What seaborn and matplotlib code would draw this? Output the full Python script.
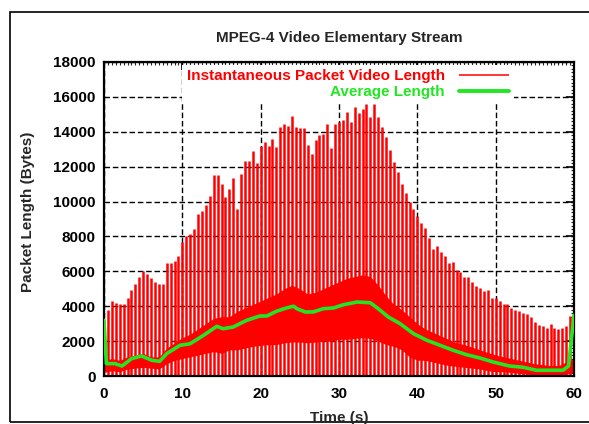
import numpy as np
import matplotlib
matplotlib.use('Agg')
import matplotlib.pyplot as plt
import seaborn as sns
from matplotlib.patches import Rectangle
from matplotlib.ticker import MultipleLocator

# I-frame spike heights (bytes), one every 0.5 s from 0.5 s to 59.5 s
spike_len = [
    3800, 4300, 4200, 4100, 4100, 4450, 4950, 5300, 5650, 6000,
    5850, 5600, 5400, 5250, 5300, 6450, 6500, 6600, 6900, 7700,
    8050, 8150, 8400, 9300, 9450, 9800, 10300, 11500, 11500, 11000,
    10250, 10700, 11350, 9600, 11600, 12300, 12300, 12900, 12200, 13200,
    13400, 13200, 13600, 13100, 14300, 14450, 14350, 14900, 14300, 14200,
    14200, 13250, 12750, 13550, 13800, 13900, 14450, 13050, 14450, 14550,
    14650, 15150, 14550, 15400, 15050, 15300, 15600, 14850, 15600, 14850,
    14250, 13700, 12950, 12250, 11700, 11000, 10500, 9950, 9600, 9200,
    8750, 8500, 7900, 7300, 7450, 7100, 6900, 6450, 6550, 6100,
    5950, 5650, 5650, 5400, 5150, 5050, 4850, 4950, 4500, 4450,
    4300, 4150, 4100, 3900, 3800, 3700, 3600, 3550, 3400, 3100,
    2900, 2850, 2750, 3000, 2750, 2700, 2750, 2850, 3450,
]
spike_t = np.arange(0.5, 60, 0.5)

# dense band of P/B frame sizes, per second 0..60
band_t = np.arange(0, 61)
band_lo = [200, 300, 250, 400, 450, 500, 450, 400, 700, 900,
           1000, 1100, 1200, 1300, 1400, 1300, 1500, 1500, 1600, 1700,
           1750, 1800, 1800, 1900, 1950, 1950, 1900, 1950, 2000, 2000,
           2100, 2100, 2150, 2200, 2150, 2000, 1800, 1700, 1500, 1100,
           900, 900, 800, 700, 600, 550, 500, 450, 400, 300,
           250, 250, 200, 150, 100, 60, 50, 50, 50, 100, 200]
band_hi = [900, 1000, 900, 1100, 1200, 1300, 1100, 1100, 1600, 1900,
           2200, 2400, 2700, 3000, 3300, 3400, 3400, 3700, 3900, 4100,
           4300, 4500, 4700, 5000, 5200, 5000, 4700, 4800, 5000, 5200,
           5400, 5600, 5700, 5800, 5700, 5200, 4600, 4100, 3800, 3400,
           3000, 2700, 2500, 2300, 2100, 1900, 1800, 1650, 1500, 1350,
           1200, 1100, 1000, 900, 800, 700, 650, 600, 600, 800, 1000]

# running average length
avg_t = [0, 0.3, 1.4, 2.3, 3.5, 4.8, 6.1, 7.1, 8.0, 9.7, 11.0, 12.7, 14.4,
         15.2, 16.5, 18.2, 19.9, 20.8, 22.0, 23.3, 24.2, 24.6, 25.7, 26.7,
         28.0, 29.3, 30.6, 32.3, 34.0, 35.0, 36.3, 37.8, 39.5, 41.2, 42.9,
         44.6, 46.3, 48.0, 49.7, 51.8, 53.5, 55.2, 56.5, 58.6, 59.3, 60.0]
avg_len = [3190, 710, 710, 570, 990, 1150, 900, 840, 1280, 1760, 1850, 2330,
           2850, 2710, 2810, 3190, 3440, 3440, 3710, 3900, 4000, 3860, 3670,
           3670, 3860, 3900, 4090, 4240, 4200, 3860, 3380, 3000, 2430, 2050,
           1760, 1470, 1220, 1030, 800, 570, 500, 330, 330, 330, 570, 3480]

RED = '#ff0000'
GREEN = '#22e622'

sns.set_style('white')
plt.rcParams['font.family'] = ['Liberation Sans', 'DejaVu Sans']
plt.rcParams['font.weight'] = 'bold'

fig = plt.figure(figsize=(5.89, 4.24), dpi=100)
W, H = 589, 424
ax = fig.add_axes([104 / W, (H - 376) / H, 470 / W, 314 / H])

# instantaneous packet lengths: dense band + periodic spikes
ax.fill_between(band_t, band_lo, band_hi, color=RED, linewidth=0, zorder=2)
ax.vlines(spike_t, 0, spike_len, color=RED, linewidth=1.8, zorder=2,
          label='Instantaneous Packet Video Length')
sns.lineplot(x=avg_t, y=avg_len, ax=ax, color=GREEN, linewidth=2.6,
             zorder=3, label='Average Length')

ax.set_xlim(0, 60)
ax.set_ylim(0, 18000)
ax.xaxis.set_major_locator(MultipleLocator(10))
ax.xaxis.set_minor_locator(MultipleLocator(0.5))
ax.yaxis.set_major_locator(MultipleLocator(2000))
ax.yaxis.set_minor_locator(MultipleLocator(200))
ax.tick_params(which='major', direction='in', length=6, width=1.2,
               top=True, right=True, labelsize=11, colors='black')
ax.tick_params(which='minor', direction='in', length=2.5, width=0.8,
               top=True, right=True)
ax.tick_params(axis='x', pad=8)
ax.tick_params(axis='y', pad=6)
for lab in ax.get_xticklabels() + ax.get_yticklabels():
    lab.set_fontweight('bold')

ax.set_axisbelow(True)
ax.grid(True, which='major', color='black', linestyle=(0, (4, 2)), linewidth=1.0)
for sp in ax.spines.values():
    sp.set_linewidth(1.6)
    sp.set_color('black')
ax.set_xlabel('')
ax.set_ylabel('')

leg = ax.legend(loc='upper right', bbox_to_anchor=(0.872, 0.992),
                borderaxespad=0, markerfirst=False, handlelength=3.3,
                handletextpad=0.9, labelspacing=0.12, borderpad=0.3,
                prop={'weight': 'bold', 'size': 11},
                frameon=True, fancybox=False, framealpha=1,
                facecolor='white', edgecolor='none')
for txt, c in zip(leg.get_texts(), [RED, GREEN]):
    txt.set_color(c)
# gnuplot-style key samples: thin red, thick green
for h, lw in zip(leg.legend_handles, [1.1, 2.8]):
    h.set_linewidth(lw)

fig.text(339 / W, (H - 38) / H, 'MPEG-4 Video Elementary Stream',
         ha='center', va='center', fontsize=11, fontweight='bold')
fig.text(28 / W, (H - 212) / H, 'Packet Length (Bytes)', rotation=90,
         ha='center', va='center', fontsize=11, fontweight='bold')
fig.text(339 / W, (H - 418) / H, 'Time (s)',
         ha='center', va='center', fontsize=11, fontweight='bold')

fig.patches.append(Rectangle((10 / W, 2 / H), 1.0, (422 - 12) / H,
                             transform=fig.transFigure, fill=False,
                             edgecolor='black', linewidth=1.2))

fig.savefig('out.png', dpi=100)
